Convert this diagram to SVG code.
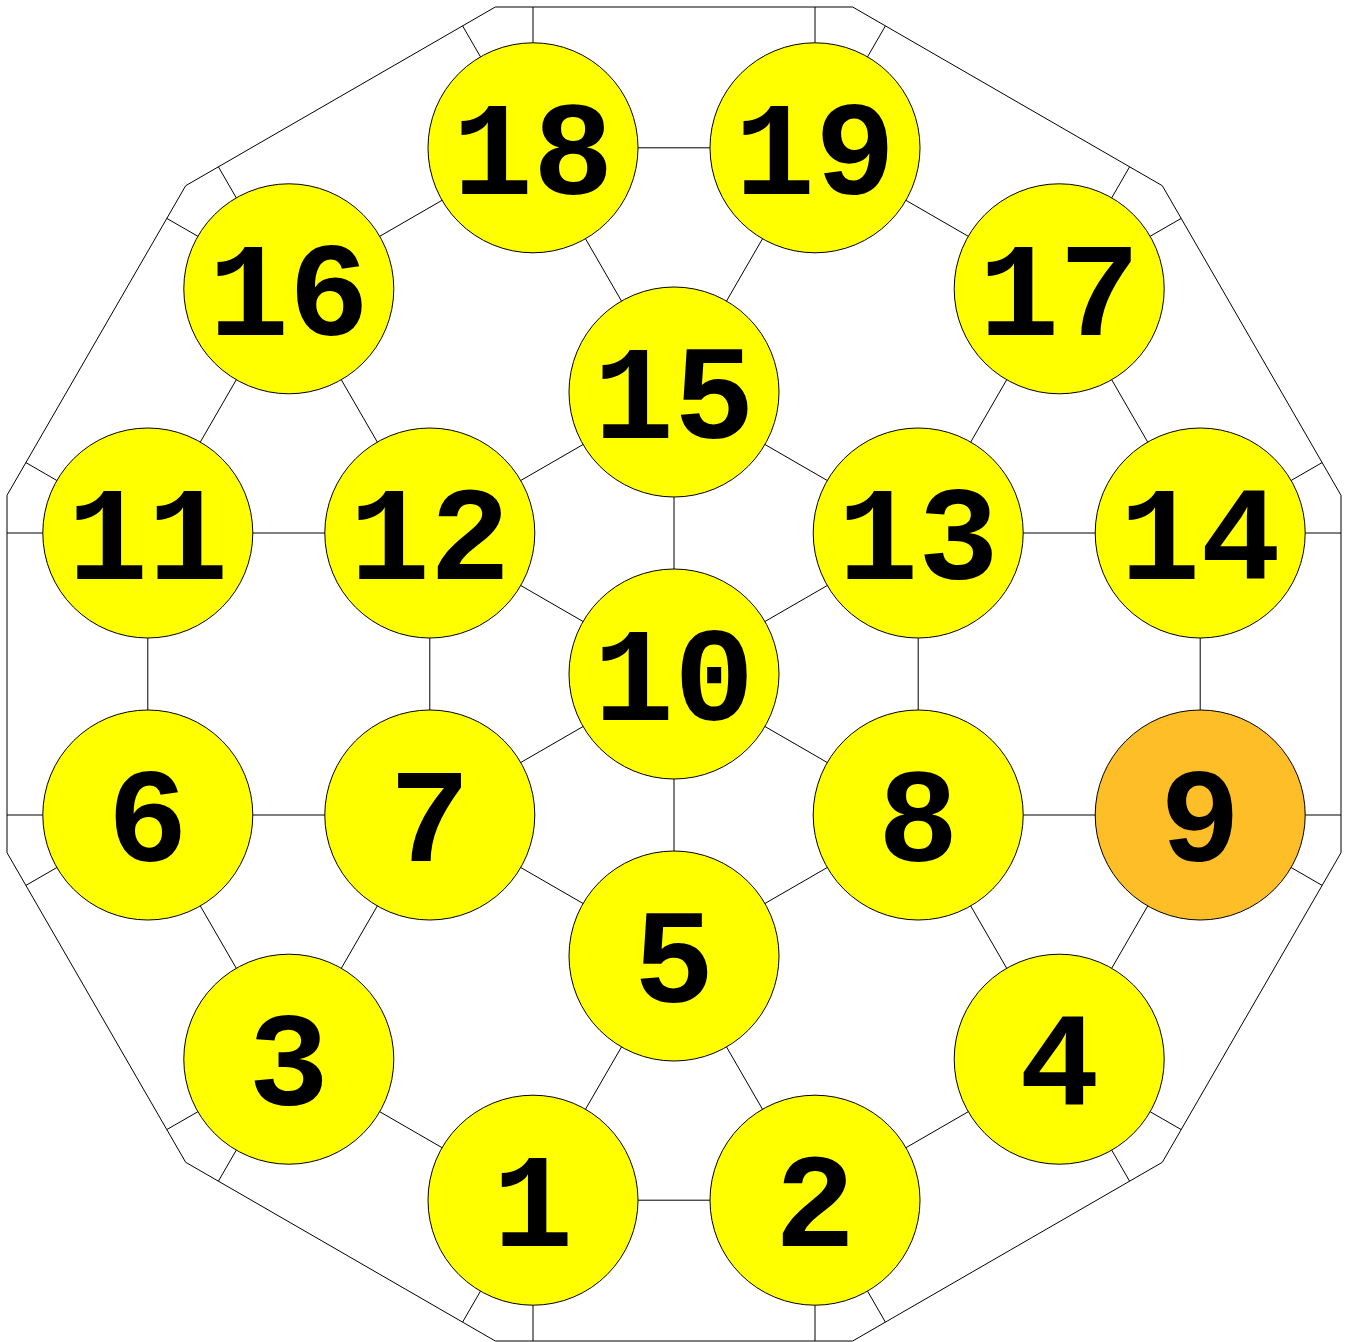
<svg xmlns="http://www.w3.org/2000/svg" width="1348" height="1342" viewBox="0 0 1348 1342">
<style>
.e{stroke:#000;stroke-width:1;fill:none}
.n circle{fill:#ffff00;stroke:#000;stroke-width:1}
.n.hl circle{fill:#febe27}
.n text{font-family:"Liberation Mono","Courier New",monospace;font-weight:bold;font-size:134px;text-anchor:middle;fill:#000}
</style>
<rect width="1348" height="1342" fill="#fff"/>
<g id="connectors" class="e">
<polygon points="1341,495.3 1162.3,185.7 852.7,7 495.3,7 185.7,185.7 7,495.3 7,852.7 185.7,1162.3 495.3,1341 852.7,1341 1162.3,1162.3 1341,852.7"/>
<path d="M533,147.8L815,147.8 M533,147.8L288.8,288.8 M533,147.8L674,392 M815,147.8L674,392 M815,147.8L1059.2,288.8
M288.8,288.8L147.8,533 M288.8,288.8L429.8,533 M1059.2,288.8L918.2,533 M1059.2,288.8L1200.2,533
M674,392L429.8,533 M674,392L918.2,533 M674,392L674,674
M147.8,533L429.8,533 M918.2,533L1200.2,533 M147.8,533L147.8,815 M429.8,533L429.8,815 M429.8,533L674,674 M918.2,533L674,674 M918.2,533L918.2,815 M1200.2,533L1200.2,815
M674,674L429.8,815 M674,674L918.2,815 M674,674L674,956
M147.8,815L429.8,815 M918.2,815L1200.2,815
M147.8,815L288.8,1059.2 M429.8,815L288.8,1059.2 M429.8,815L674,956 M918.2,815L674,956 M918.2,815L1059.2,1059.2 M1200.2,815L1059.2,1059.2
M674,956L533,1200.2 M674,956L815,1200.2 M288.8,1059.2L533,1200.2 M533,1200.2L815,1200.2 M815,1200.2L1059.2,1059.2"/>
<path d="M1305.2,533L1341,533 M1291.1,480.5L1322.1,462.6
M1150.1,236.3L1181.2,218.4 M1111.7,197.9L1129.6,166.8
M867.5,56.9L885.4,25.9 M815,42.8L815,7
M533,42.8L533,7 M480.5,56.9L462.6,25.9
M236.3,197.9L218.4,166.8 M197.9,236.3L166.8,218.4
M56.9,480.5L25.9,462.6 M42.8,533L7,533
M42.8,815L7,815 M56.9,867.5L25.9,885.4
M197.9,1111.7L166.8,1129.6 M236.3,1150.1L218.4,1181.2
M480.5,1291.1L462.6,1322.1 M533,1305.2L533,1341
M815,1305.2L815,1341 M867.5,1291.1L885.4,1322.1
M1111.7,1150.1L1129.6,1181.2 M1150.1,1111.7L1181.2,1129.6
M1291.1,867.5L1322.1,885.4 M1305.2,815L1341,815"/>
</g>
<g id="node1" class="n"><circle cx="533" cy="1200.2" r="105"/><text x="533" y="1246.2">1</text></g>
<g id="node2" class="n"><circle cx="815" cy="1200.2" r="105"/><text x="815" y="1246.2">2</text></g>
<g id="node3" class="n"><circle cx="288.8" cy="1059.2" r="105"/><text x="288.8" y="1105.2">3</text></g>
<g id="node4" class="n"><circle cx="1059.2" cy="1059.2" r="105"/><text x="1059.2" y="1105.2">4</text></g>
<g id="node5" class="n"><circle cx="674" cy="956" r="105"/><text x="674" y="1002">5</text></g>
<g id="node6" class="n"><circle cx="147.8" cy="815" r="105"/><text x="147.8" y="861">6</text></g>
<g id="node7" class="n"><circle cx="429.8" cy="815" r="105"/><text x="429.8" y="861">7</text></g>
<g id="node8" class="n"><circle cx="918.2" cy="815" r="105"/><text x="918.2" y="861">8</text></g>
<g id="node9" class="n hl"><circle cx="1200.2" cy="815" r="105"/><text x="1200.2" y="861">9</text></g>
<g id="node10" class="n"><circle cx="674" cy="674" r="105"/><text x="674" y="720">10</text></g>
<g id="node11" class="n"><circle cx="147.8" cy="533" r="105"/><text x="147.8" y="579">11</text></g>
<g id="node12" class="n"><circle cx="429.8" cy="533" r="105"/><text x="429.8" y="579">12</text></g>
<g id="node13" class="n"><circle cx="918.2" cy="533" r="105"/><text x="918.2" y="579">13</text></g>
<g id="node14" class="n"><circle cx="1200.2" cy="533" r="105"/><text x="1200.2" y="579">14</text></g>
<g id="node15" class="n"><circle cx="674" cy="392" r="105"/><text x="674" y="438">15</text></g>
<g id="node16" class="n"><circle cx="288.8" cy="288.8" r="105"/><text x="288.8" y="334.8">16</text></g>
<g id="node17" class="n"><circle cx="1059.2" cy="288.8" r="105"/><text x="1059.2" y="334.8">17</text></g>
<g id="node18" class="n"><circle cx="533" cy="147.8" r="105"/><text x="533" y="193.8">18</text></g>
<g id="node19" class="n"><circle cx="815" cy="147.8" r="105"/><text x="815" y="193.8">19</text></g>
</svg>
